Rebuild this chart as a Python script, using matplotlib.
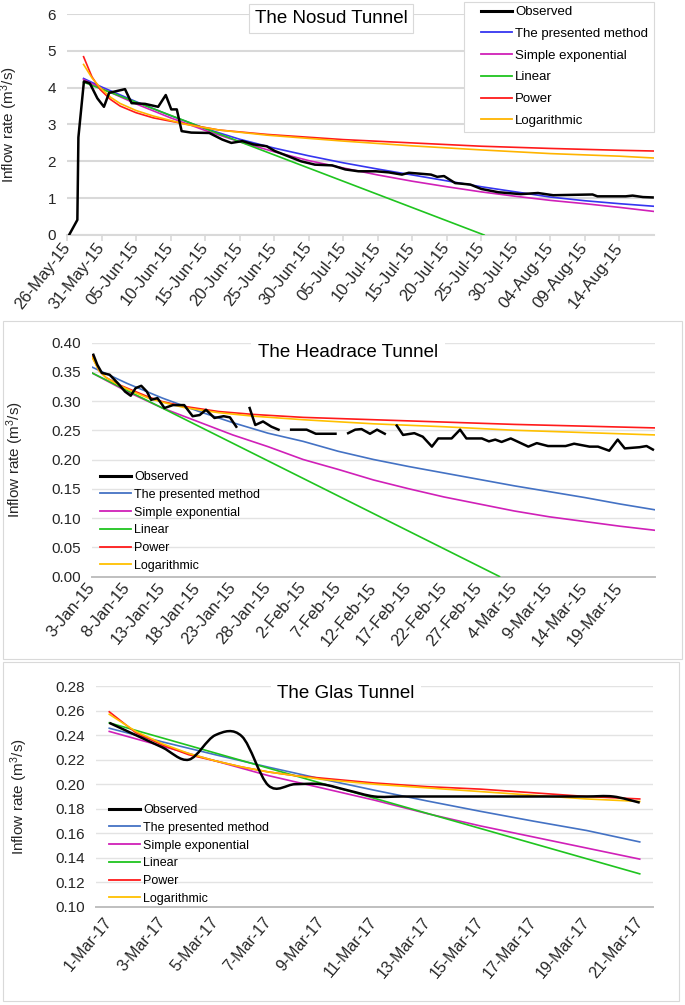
import matplotlib
matplotlib.use("Agg")
import matplotlib.pyplot as plt
import matplotlib.patches as patches
from matplotlib.path import Path
from matplotlib.lines import Line2D
from matplotlib.transforms import ScaledTranslation
import numpy as np

plt.rcParams['font.family'] = ['Liberation Sans', 'DejaVu Sans']
plt.rcParams['mathtext.default'] = 'regular'

W, H = 685, 1005

names = ['Observed', 'The presented method', 'Simple exponential', 'Linear', 'Power', 'Logarithmic']

# ---------------- The Nosud Tunnel (days from 26-May-15) ----------------
nosud_ticklabels = ['26-May-15', '31-May-15', '05-Jun-15', '10-Jun-15', '15-Jun-15', '20-Jun-15',
                    '25-Jun-15', '30-Jun-15', '05-Jul-15', '10-Jul-15', '15-Jul-15', '20-Jul-15',
                    '25-Jul-15', '30-Jul-15', '04-Aug-15', '09-Aug-15', '14-Aug-15']
nosud_obs_day = [0.3, 1.5, 1.65, 2.45, 3.3, 4.4, 5.35, 6.1, 8.4, 9.35, 11.3, 13.2, 14.3, 15.1, 15.9,
                 16.6, 18.0, 20.6, 22.5, 23.8, 25.4, 27.0, 28.9, 30.1, 32.0, 33.9, 35.9, 38.4, 40.3,
                 42.2, 44.7, 46.6, 48.5, 49.5, 52.7, 53.6, 54.6, 56.2, 58.4, 60.0, 62.5, 65.7, 68.2,
                 70.4, 76.1, 76.8, 80.9, 81.9, 83.4, 84.8]
nosud_obs = [0.0, 0.41, 2.65, 4.17, 4.12, 3.71, 3.48, 3.86, 3.96, 3.58, 3.56, 3.48, 3.80, 3.41, 3.41,
             2.82, 2.78, 2.77, 2.59, 2.50, 2.55, 2.46, 2.41, 2.28, 2.14, 2.00, 1.91, 1.89, 1.78,
             1.73, 1.73, 1.70, 1.64, 1.69, 1.64, 1.58, 1.60, 1.41, 1.37, 1.25, 1.16, 1.11, 1.14,
             1.08, 1.10, 1.05, 1.05, 1.07, 1.03, 1.02]
nosud_fit_day = [2.4, 5, 10, 15, 20, 25, 30, 35, 40, 45, 50, 55, 60, 65, 70, 75, 80, 85]
nosud_presented = [4.25, 4.02, 3.62, 3.24, 2.89, 2.60, 2.36, 2.15, 1.96, 1.79, 1.63, 1.47, 1.31,
                   1.17, 1.03, 0.93, 0.85, 0.78]
nosud_exponential = [4.22, 3.98, 3.56, 3.18, 2.84, 2.53, 2.26, 2.02, 1.82, 1.63, 1.46, 1.31, 1.17,
                     1.05, 0.94, 0.85, 0.75, 0.64]
nosud_linear_day = [2.4, 60.4]
nosud_linear = [4.15, 0.0]
nosud_curve_day = [2.4, 3.6, 4.8, 6.3, 7.7, 10, 12.5, 15, 17.3, 22, 29, 40, 50, 60, 70, 80, 85]
nosud_power = [4.84, 4.30, 3.95, 3.68, 3.50, 3.32, 3.18, 3.09, 3.01, 2.85, 2.73, 2.59, 2.50, 2.41,
               2.35, 2.30, 2.28]
nosud_log = [4.63, 4.27, 4.00, 3.74, 3.57, 3.38, 3.23, 3.11, 3.00, 2.85, 2.71, 2.55, 2.42, 2.31,
             2.21, 2.14, 2.09]

# ---------------- The Headrace Tunnel (days from 3-Jan-15) ----------------
head_ticklabels = ['3-Jan-15', '8-Jan-15', '13-Jan-15', '18-Jan-15', '23-Jan-15', '28-Jan-15',
                   '2-Feb-15', '7-Feb-15', '12-Feb-15', '17-Feb-15', '22-Feb-15', '27-Feb-15',
                   '4-Mar-15', '9-Mar-15', '14-Mar-15', '19-Mar-15']
head_obs_day = [0.2, 0.75, 1.4, 2.5, 3.7, 4.7, 5.5, 6.2, 7.0, 7.8, 8.4, 9.3, 10.3, 11.5, 13.1, 14.3,
                15.3, 16.2, 17.4, 18.7, 19.6, 20.5, 21.5,
                22.4, 23.2, 24.3, 25.5, 26.5, 27.4,
                28.3, 30.5, 31.8, 34.6, 35.5,
                36.4, 37.4, 38.3, 39.5, 40.5, 41.6, 42.4,
                43.3, 44.2, 45.8, 47.0, 48.3, 49.2, 51.1, 52.3, 53.2, 55.4, 56.4, 57.3, 58.2,
                59.5, 60.4, 62.0, 63.2, 64.8, 67.3, 68.5, 70.7, 71.9, 73.5, 74.7, 75.7, 77.8,
                78.8, 79.7]
head_obs = [0.379, 0.362, 0.348, 0.345, 0.330, 0.316, 0.309, 0.322, 0.326, 0.316, 0.302, 0.305,
            0.288, 0.293, 0.293, 0.274, 0.276, 0.285, 0.271, 0.274, 0.272, 0.256, np.nan,
            0.288, 0.259, 0.265, 0.256, 0.251, np.nan,
            0.251, 0.251, 0.244, 0.244, np.nan,
            0.245, 0.251, 0.252, 0.244, 0.251, 0.244, np.nan,
            0.258, 0.242, 0.245, 0.239, 0.222, 0.236, 0.236, 0.251, 0.236, 0.236, 0.231,
            0.234, 0.230, 0.236, 0.231, 0.222, 0.228, 0.223, 0.223, 0.227, 0.222, 0.222,
            0.215, 0.234, 0.219, 0.221, 0.223, 0.217]
head_fit_day = [0, 5, 10, 15, 20, 25, 30, 35, 40, 45, 50, 55, 60, 65, 70, 75, 80]
head_presented = [0.358, 0.330, 0.305, 0.283, 0.263, 0.245, 0.231, 0.214, 0.200, 0.188, 0.177,
                  0.166, 0.155, 0.145, 0.135, 0.124, 0.114]
head_exponential = [0.348, 0.316, 0.288, 0.265, 0.242, 0.222, 0.200, 0.183, 0.165, 0.150, 0.136,
                    0.124, 0.112, 0.102, 0.094, 0.086, 0.079]
head_linear_day = [0, 57.9]
head_linear = [0.348, 0.0]
head_curve_day = [0, 1, 2, 4, 6, 8, 10, 13, 18, 23, 30, 40, 50, 60, 70, 80]
head_power = [0.377, 0.352, 0.340, 0.327, 0.317, 0.307, 0.299, 0.291, 0.282, 0.277, 0.272, 0.268,
              0.264, 0.260, 0.257, 0.254]
head_log = [0.375, 0.352, 0.340, 0.326, 0.315, 0.305, 0.298, 0.289, 0.280, 0.274, 0.268, 0.261,
            0.256, 0.250, 0.246, 0.242]

# ---------------- The Glas Tunnel (days from 1-Mar-17) ----------------
glas_ticklabels = ['1-Mar-17', '3-Mar-17', '5-Mar-17', '7-Mar-17', '9-Mar-17', '11-Mar-17',
                   '13-Mar-17', '15-Mar-17', '17-Mar-17', '19-Mar-17', '21-Mar-17']
glas_obs = [0.250, 0.240, 0.230, 0.220, 0.240, 0.239, 0.199, 0.200, 0.200, 0.195, 0.190, 0.190,
            0.190, 0.190, 0.190, 0.190, 0.190, 0.190, 0.190, 0.190, 0.185]
glas_fit_day = [0, 2, 4, 6, 8, 10, 12, 14, 16, 18, 20]
glas_presented = [0.2456, 0.2345, 0.2240, 0.2139, 0.2043, 0.1951, 0.1863, 0.1779, 0.1699, 0.1623,
                  0.1530]
glas_exponential = [0.243, 0.231, 0.219, 0.207, 0.197, 0.187, 0.176, 0.166, 0.157, 0.148, 0.139]
glas_linear = [0.250, 0.2377, 0.2254, 0.2131, 0.2008, 0.1885, 0.1762, 0.1639, 0.1516, 0.1393,
               0.127]
glas_curve_day = [0, 1, 2, 3, 4, 5, 6, 7, 8, 10, 12, 14, 16, 18, 20]
glas_power = [0.259, 0.242, 0.232, 0.224, 0.219, 0.214, 0.210, 0.207, 0.205, 0.201, 0.198, 0.196,
              0.193, 0.190, 0.188]
glas_log = [0.257, 0.243, 0.233, 0.225, 0.219, 0.214, 0.210, 0.207, 0.204, 0.200, 0.197, 0.194,
            0.191, 0.188, 0.186]


def smooth_path(x, y):
    # Excel-like smoothed line (Catmull-Rom as cubic Bezier)
    x = np.asarray(x, float)
    y = np.asarray(y, float)
    xp = np.r_[x[0], x, x[-1]]
    yp = np.r_[y[0], y, y[-1]]
    verts = [(x[0], y[0])]
    codes = [Path.MOVETO]
    for i in range(len(x) - 1):
        c1 = (xp[i + 1] + (xp[i + 2] - xp[i]) / 6, yp[i + 1] + (yp[i + 2] - yp[i]) / 6)
        c2 = (xp[i + 2] - (xp[i + 3] - xp[i + 1]) / 6, yp[i + 2] - (yp[i + 3] - yp[i + 1]) / 6)
        verts += [c1, c2, (x[i + 1], y[i + 1])]
        codes += [Path.CURVE4] * 3
    return Path(verts, codes)


def px_axes(fig, left, right, top, bottom):
    return fig.add_axes([left / W, 1 - bottom / H, (right - left) / W, (bottom - top) / H])


def style_axes(ax, grid_color, grid_lw, axis_color, axis_lw):
    for s in ['left', 'top', 'right']:
        ax.spines[s].set_visible(False)
    ax.spines['bottom'].set_color(axis_color)
    ax.spines['bottom'].set_linewidth(axis_lw)
    ax.set_facecolor('none')
    ax.set_axisbelow(True)
    ax.grid(axis='y', color=grid_color, linewidth=grid_lw)
    ax.tick_params(axis='y', length=0, labelsize=11, labelcolor='#262626', pad=8)


def rotate_labels(fig, ax, labels, size, rot, pad, dx=0):
    ax.set_xticklabels(labels, rotation=rot, ha='right', va='center', rotation_mode='anchor',
                       fontsize=size, color='#262626')
    ax.tick_params(axis='x', pad=pad)
    if dx:
        shift = ScaledTranslation(dx / 100, 0, fig.dpi_scale_trans)
        for lab in ax.get_xticklabels():
            lab.set_transform(lab.get_transform() + shift)


fig = plt.figure(figsize=(W / 100, H / 100), dpi=100)
fig.patch.set_facecolor('white')

ylabel = 'Inflow rate (m$^3$/s)'
lw_obs = 1.8
lw_fit = 1.2

# ---- panel 1 ----
ax1 = px_axes(fig, 67, 654, 14, 235)
style_axes(ax1, '#d9d9d9', 1.5, '#d9d9d9', 1.5)
c1 = ['black', '#3535f0', '#d020b8', '#1fc41f', '#ff1a1a', '#ffb400']
ax1.plot(nosud_obs_day, nosud_obs, color=c1[0], lw=lw_obs, zorder=7)
ax1.plot(nosud_fit_day, nosud_presented, color=c1[1], lw=lw_fit, zorder=3)
ax1.plot(nosud_fit_day, nosud_exponential, color=c1[2], lw=lw_fit, zorder=4)
ax1.plot(nosud_linear_day, nosud_linear, color=c1[3], lw=lw_fit, zorder=5)
ax1.plot(nosud_curve_day, nosud_power, color=c1[4], lw=lw_fit, zorder=5)
ax1.plot(nosud_curve_day, nosud_log, color=c1[5], lw=lw_fit, zorder=6)
ax1.set_xlim(0, 85)
ax1.set_ylim(0, 6)
ax1.set_yticks(range(0, 7))
ax1.set_xticks(np.arange(len(nosud_ticklabels)) * 5)
rotate_labels(fig, ax1, nosud_ticklabels, 12, 52, 3, dx=2)
ax1.tick_params(axis='x', length=4, color='#d9d9d9', width=1.2)
ax1.set_ylabel(ylabel, fontsize=11, color='#262626')
ax1.yaxis.set_label_coords(-0.08, 0.5)

fig.text(331 / W, 1 - 18.5 / H, 'The Nosud Tunnel', ha='center', va='center', fontsize=13.5,
         zorder=8, bbox=dict(boxstyle='square,pad=0.3', facecolor='white', edgecolor='#d9d9d9', lw=0.8))
fig.add_artist(patches.Rectangle((464 / W, 1 - 132 / H), 190 / W, 130 / H, transform=fig.transFigure,
                                 facecolor='white', edgecolor='#d9d9d9', lw=0.8, zorder=3))
h1 = [Line2D([], [], color=c1[0], lw=2.2)] + [Line2D([], [], color=c, lw=1.3) for c in c1[1:]]
leg1 = fig.legend(h1, names, loc='upper left', bbox_to_anchor=(481 / W, 1 - 6 / H),
                  bbox_transform=fig.transFigure, frameon=False, fontsize=9.5, borderpad=0,
                  borderaxespad=0, handlelength=2.35, handletextpad=0.25, labelspacing=0.72)
leg1.set_zorder(9)

# ---- panel 2 ----
fig.add_artist(patches.Rectangle((3 / W, 1 - 659 / H), 679 / W, 338 / H, transform=fig.transFigure,
                                 fill=False, edgecolor='#d9d9d9', lw=0.8, zorder=-1))
ax2 = px_axes(fig, 92, 655, 342.5, 576.5)
style_axes(ax2, '#e3e3e3', 1.0, '#bfbfbf', 1.4)
c2 = ['black', '#4472c4', '#d020b8', '#1fc41f', '#ff1a1a', '#ffc000']
ax2.plot(head_obs_day, head_obs, color=c2[0], lw=lw_obs, zorder=7)
ax2.plot(head_fit_day, head_presented, color=c2[1], lw=lw_fit, zorder=3)
ax2.plot(head_fit_day, head_exponential, color=c2[2], lw=lw_fit, zorder=4)
ax2.plot(head_linear_day, head_linear, color=c2[3], lw=lw_fit, zorder=5)
ax2.plot(head_curve_day, head_power, color=c2[4], lw=lw_fit, zorder=5)
ax2.plot(head_curve_day, head_log, color=c2[5], lw=lw_fit, zorder=6)
ax2.set_xlim(0, 80)
ax2.set_ylim(0, 0.40)
ax2.set_yticks(np.arange(0, 0.401, 0.05))
ax2.yaxis.set_major_formatter(matplotlib.ticker.FormatStrFormatter('%.2f'))
ax2.set_xticks(np.arange(len(head_ticklabels)) * 5)
rotate_labels(fig, ax2, head_ticklabels, 12, 50, 6, dx=5)
ax2.tick_params(axis='x', length=0)
ax2.set_ylabel(ylabel, fontsize=11, color='#262626')
ax2.yaxis.set_label_coords(-0.117, 0.5)
fig.text(348 / W, 1 - 352 / H, 'The Headrace Tunnel', ha='center', va='center', fontsize=13.5,
         zorder=8, bbox=dict(boxstyle='square,pad=0.35', facecolor='white', edgecolor='none'))
h2 = [Line2D([], [], color=c2[0], lw=2.2)] + [Line2D([], [], color=c, lw=1.3) for c in c2[1:]]
leg2 = ax2.legend(h2, names, loc='upper left', bbox_to_anchor=(100 / W, 1 - 471 / H),
                  bbox_transform=fig.transFigure, frameon=False, fontsize=9, borderpad=0,
                  borderaxespad=0, handlelength=2.5, handletextpad=0.25, labelspacing=0.46)
leg2.set_zorder(9)

# ---- panel 3 ----
fig.add_artist(patches.Rectangle((3 / W, 1 - 1001 / H), 676 / W, 339 / H, transform=fig.transFigure,
                                 fill=False, edgecolor='#d9d9d9', lw=0.8, zorder=-1))
ax3 = px_axes(fig, 96, 653, 686, 907)
style_axes(ax3, '#e3e3e3', 1.0, '#bfbfbf', 1.4)
glas_days = np.arange(len(glas_obs))
ax3.add_patch(patches.PathPatch(smooth_path(glas_days, glas_obs), facecolor='none',
                                edgecolor='black', lw=lw_obs, zorder=7))
ax3.plot(glas_fit_day, glas_presented, color=c2[1], lw=lw_fit, zorder=3)
ax3.plot(glas_fit_day, glas_exponential, color=c2[2], lw=lw_fit, zorder=4)
ax3.plot(glas_fit_day, glas_linear, color=c2[3], lw=lw_fit, zorder=5)
ax3.plot(glas_curve_day, glas_power, color=c2[4], lw=lw_fit, zorder=5)
ax3.plot(glas_curve_day, glas_log, color=c2[5], lw=lw_fit, zorder=6)
ax3.set_xlim(-0.5, 20.5)
ax3.set_ylim(0.10, 0.28)
ax3.set_yticks(np.arange(0.10, 0.281, 0.02))
ax3.yaxis.set_major_formatter(matplotlib.ticker.FormatStrFormatter('%.2f'))
ax3.set_xticks(np.arange(len(glas_ticklabels)) * 2)
rotate_labels(fig, ax3, glas_ticklabels, 11.5, 50, 9)
ax3.tick_params(axis='x', length=0)
ax3.set_ylabel(ylabel, fontsize=11, color='#262626')
ax3.yaxis.set_label_coords(-0.119, 0.5)
fig.text(346 / W, 1 - 694 / H, 'The Glas Tunnel', ha='center', va='center', fontsize=13.5,
         zorder=8, bbox=dict(boxstyle='square,pad=0.35', facecolor='white', edgecolor='none'))
leg3 = ax3.legend(h2, names, loc='upper left', bbox_to_anchor=(109 / W, 1 - 804 / H),
                  bbox_transform=fig.transFigure, frameon=False, fontsize=9, borderpad=0,
                  borderaxespad=0, handlelength=2.5, handletextpad=0.25, labelspacing=0.46)
leg3.set_zorder(9)

fig.savefig('out.png', dpi=100)
